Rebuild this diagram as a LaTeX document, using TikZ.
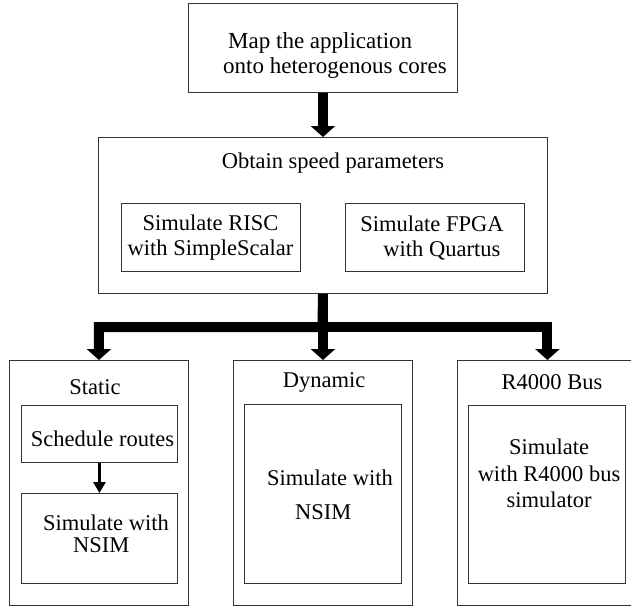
\documentclass[tikz,border=0pt]{standalone}
\usepackage{fontspec}
\setmainfont{Liberation Serif}
\usetikzlibrary{arrows.meta}
\begin{document}
\begin{tikzpicture}[x=1pt,y=-1pt,
  frame/.style={draw=black!80, line width=0.9pt, inner sep=0pt, anchor=north west},
  lbl/.style={inner sep=0pt, font=\fontsize{22.5}{25}\selectfont, align=center},
  bigarrow/.style={line width=10pt, line join=miter, -{Triangle[width=24pt,length=11pt]}},
  smallarrow/.style={line width=3.5pt, -{Triangle[width=12pt,length=11pt]}}]
  \useasboundingbox (0,0) rectangle (631,606);
  \clip (0,0) rectangle (631,606);

  % frames
  \node[frame, minimum width=269pt, minimum height=89pt]  (top)    at (188,3)   {};
  \node[frame, minimum width=449pt, minimum height=156pt] (obtain) at (98,137)  {};
  \node[frame, minimum width=179pt, minimum height=68pt]  (risc)   at (121,203) {};
  \node[frame, minimum width=179pt, minimum height=68pt]  (fpga)   at (345,203) {};
  \node[frame, minimum width=179pt, minimum height=245pt] (static) at (9,360)   {};
  \node[frame, minimum width=156pt, minimum height=57pt]  (sched)  at (21,405)  {};
  \node[frame, minimum width=156pt, minimum height=90pt]  (simA)   at (21,493)  {};
  \node[frame, minimum width=179pt, minimum height=245pt] (dyn)    at (233,360) {};
  \node[frame, minimum width=157pt, minimum height=179pt] (simB)   at (244,404) {};
  \node[frame, minimum width=180pt, minimum height=245pt] (r4k)    at (457,360) {};
  \node[frame, minimum width=157pt, minimum height=178pt] (simC)   at (468,405) {};

  % texts
  \node[lbl, align=left, font=\fontsize{23}{25}\selectfont] (tmap) at (335,55) {\hspace*{5pt}Map the application\\onto heterogenous cores};
  \node[lbl] (tobt) at (333,163) {Obtain speed parameters};
  \node[lbl] (trisc) at (210.5,238) {Simulate RISC\\with SimpleScalar};
  \node[lbl, align=left] (tfpga) at (432,238) {Simulate FPGA\\\hspace*{23pt}with Quartus};
  \node[lbl] (tstatic) at (95,387) {Static};
  \node[lbl] (tsched) at (102.5,439) {Schedule routes};
  \node[lbl, align=left, anchor=west, font=\fontsize{22.5}{22}\selectfont] (tsimA) at (43,534) {Simulate with\\\hspace*{30pt}NSIM};
  \node[lbl] (tdyn) at (324,382) {Dynamic};
  \node[lbl, align=left, anchor=west, font=\fontsize{22.5}{34}\selectfont] (tsimB) at (267,495) {Simulate with\\\hspace*{28pt}NSIM};
  \node[lbl] (tr4k) at (552,382) {R4000 Bus};
  \node[lbl, font=\fontsize{22.5}{26.5}\selectfont] (tsimC) at (549,473.5) {Simulate\\with R4000 bus\\simulator};

  % connectors
  \coordinate (bar) at (322.5,327);
  \draw[bigarrow] (top.south) -- (obtain.north);
  \draw[bigarrow] (obtain.south) -- (bar) -| (static.north);
  \draw[bigarrow] (obtain.south) -- (dyn.north);
  \draw[bigarrow] (bar) -| (r4k.north);
  \draw[smallarrow] (sched.south) -- (simA.north);
\end{tikzpicture}
\end{document}
